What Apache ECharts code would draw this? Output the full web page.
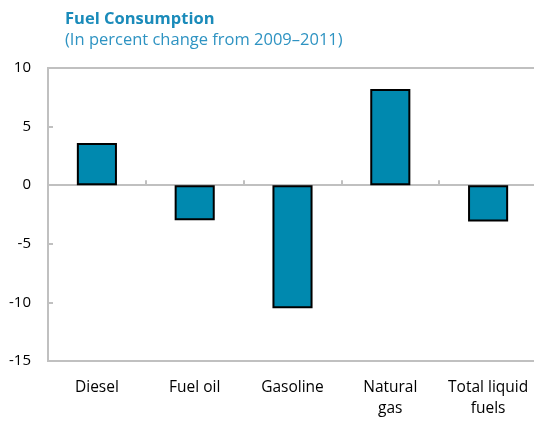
<!DOCTYPE html>
<html>
<head>
<meta charset="utf-8">
<script src="https://cdn.jsdelivr.net/npm/echarts@6/dist/echarts.min.js"></script>
<style>html,body{margin:0;padding:0;background:#fff;}#c{width:534px;height:421px;}</style>
</head>
<body>
<div id="c"></div>
<script>
var categories = ['Diesel', 'Fuel oil', 'Gasoline', 'Natural\ngas', 'Total liquid\nfuels'];
var values = [3.6, -3.0, -10.5, 8.2, -3.1];
var yTicks = [-15, -10, -5, 0, 5, 10];

var chart = echarts.init(document.getElementById('c'), null, {renderer: 'canvas'});
var font = '"Open Sans", "Noto Sans", sans-serif';
chart.setOption({
  animation: false,
  title: {
    text: 'Fuel Consumption',
    subtext: '(In percent change from 2009\u20132011)',
    left: 60, top: 6,
    itemGap: 4,
    textStyle: {fontFamily: font, fontSize: 16.5, fontWeight: 'bold', color: '#1A8BBA'},
    subtextStyle: {fontFamily: font, fontSize: 16.5, color: '#2E93C2'}
  },
  grid: {left: 48, width: 489, top: 68, bottom: 60, show: true, borderColor: '#c0c0c0', borderWidth: 2, containLabel: false, outerBoundsMode: 'none'},
  xAxis: [{
    type: 'category', data: categories, position: 'bottom',
    axisLine: {onZero: true, lineStyle: {color: '#c0c0c0', width: 2}},
    axisTick: {show: true, inside: true, length: 5, lineStyle: {color: '#c0c0c0', width: 2}},
    axisLabel: {show: false},
    splitLine: {show: false}
  }, {
    type: 'category', data: categories, position: 'bottom',
    axisLine: {show: false, onZero: false},
    axisTick: {show: false},
    axisLabel: {show: true, margin: 16, fontFamily: font, fontSize: 15.5, color: '#000', lineHeight: 21, interval: 0, hideOverlap: false}
  }],
  yAxis: {
    type: 'value', min: yTicks[0], max: yTicks[yTicks.length - 1], interval: 5,
    axisLine: {show: true, lineStyle: {color: '#c0c0c0', width: 2}},
    axisTick: {show: true, inside: true, length: 5, lineStyle: {color: '#c0c0c0', width: 2}},
    axisLabel: {margin: 17, fontFamily: font, fontSize: 15, color: '#000'},
    splitLine: {show: false}
  },
  series: [{
    type: 'bar', data: values, xAxisIndex: 0,
    barWidth: '41%',
    itemStyle: {color: '#0089AF', borderColor: '#000', borderWidth: 2}
  }]
});
</script>
</body>
</html>
